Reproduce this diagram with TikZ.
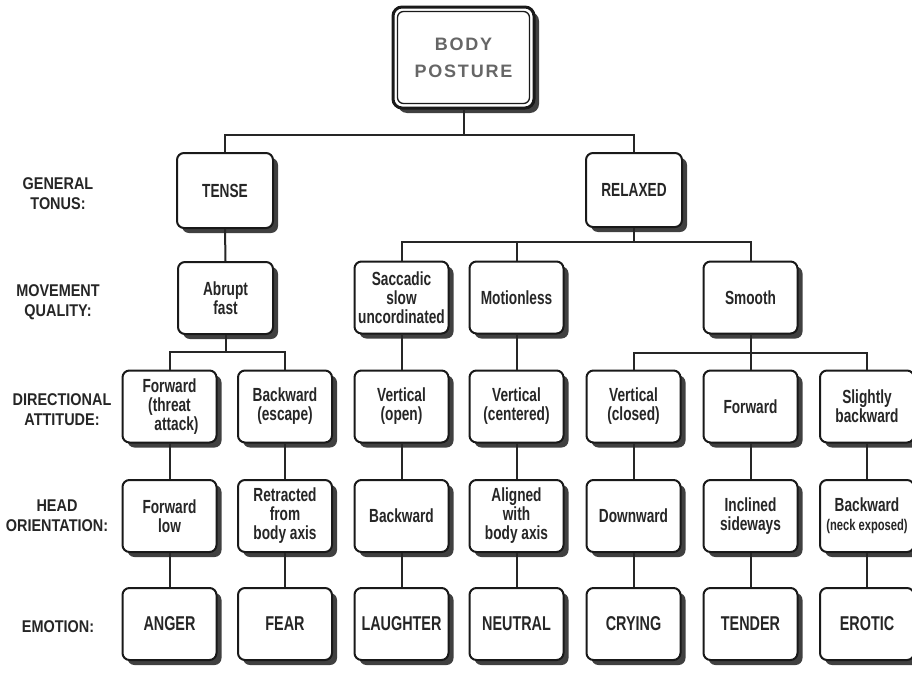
\documentclass[tikz,border=0pt]{standalone}
\usepackage{fontspec}
\setmainfont{Liberation Sans}[FakeStretch=0.72]
\newfontfamily\labfont{Liberation Sans}[FakeStretch=0.85]
\newfontfamily\titlefont{Liberation Sans}[LetterSpace=10]
\usetikzlibrary{shadows}
\begin{document}
\begin{tikzpicture}[x=1pt,y=-1pt,
  box/.style={draw=black!90, line width=2pt, rounded corners=7pt, fill=white,
    minimum width=94pt, minimum height=72pt, inner sep=1pt, align=center,
    font=\fontsize{19}{19}\selectfont\bfseries, text=black!85,
    drop shadow={shadow xshift=5pt, shadow yshift=-5pt, fill=black!75, opacity=1}},
  emo/.style={box, font=\fontsize{20}{20}\selectfont\bfseries},
  lab/.style={align=center, font=\labfont\fontsize{17}{20}\selectfont\bfseries, text=black!85},
  conn/.style={draw=black!85, line width=2pt}]
\useasboundingbox (0,0) rectangle (912,680);
\fill[white] (0,0) rectangle (912,680);

% title
\node[box, minimum width=141pt, minimum height=101pt, line width=3pt, rounded corners=9pt,
  font=\titlefont\fontsize{18}{27}\selectfont\bfseries, text=black!60,
  drop shadow={shadow xshift=3pt, shadow yshift=-3pt, fill=black!75, opacity=1}]
  (bp) at (463.5,57.5) {BODY\\POSTURE};
\draw[line width=1.3pt, rounded corners=6pt, black!90]
  ([shift={(6,6)}]bp.north west) rectangle ([shift={(-6,-6)}]bp.south east);

% row labels
\node[lab] (l1) at (58,194) {GENERAL\\TONUS:};
\node[lab] (l2) at (58,302) {MOVEMENT\\QUALITY:};
\node[lab] (l3) at (62,410) {DIRECTIONAL\\ATTITUDE:};
\node[lab] (l4) at (57,516) {HEAD\\ORIENTATION:};
\node[lab] (l5) at (58,627) {EMOTION:};

% level 1
\node[box, minimum width=96pt, minimum height=75pt] (tense) at (225,190.5) {TENSE};
\node[box, minimum width=96pt, minimum height=74pt] (relaxed) at (634,190) {RELAXED};

% level 2
\node[box, minimum width=95pt] (abrupt) at (225.5,298) {Abrupt\\fast};
\node[box] (sacc) at (401.5,297.5) {Saccadic\\slow\\uncordinated};
\node[box] (motion) at (516.5,297.5) {Motionless};
\node[box] (smooth) at (750.5,297.5) {Smooth};

% level 3
\node[box] (d1) at (169.5,406.5) {Forward\\(threat\hspace{10pt}\\\hspace{14pt}attack)};
\node[box] (d2) at (285,406.5) {Backward\\(escape)};
\node[box] (d3) at (401.5,406.5) {Vertical\\(open)};
\node[box] (d4) at (516.5,406.5) {Vertical\\(centered)};
\node[box] (d5) at (633.5,406.5) {Vertical\\(closed)};
\node[box] (d6) at (750.5,406.5) {Forward};
\node[box] (d7) at (867,406.5) {Slightly\\backward};

% level 4
\node[box] (h1) at (169.5,516) {Forward\\low};
\node[box] (h2) at (285,516) {Retracted\\from\\body axis};
\node[box] (h3) at (401.5,516) {Backward};
\node[box] (h4) at (516.5,516) {Aligned\\with\\body axis};
\node[box] (h5) at (633.5,516) {Downward};
\node[box] (h6) at (750.5,516) {Inclined\\sideways};
\node[box] (h7) at (867,516) {Backward\\{\fontsize{15.5}{16}\selectfont(neck exposed)}};

% level 5
\node[emo] (e1) at (169.5,624) {ANGER};
\node[emo] (e2) at (285,624) {FEAR};
\node[emo] (e3) at (401.5,624) {LAUGHTER};
\node[emo] (e4) at (516.5,624) {NEUTRAL};
\node[emo] (e5) at (633.5,624) {CRYING};
\node[emo] (e6) at (750.5,624) {TENDER};
\node[emo] (e7) at (867,624) {EROTIC};

% junctions
\coordinate (j0) at (463.5,135);
\coordinate (j1) at (634,242);
\coordinate (j2) at (225.5,352);
\coordinate (j3) at (750.5,353);

% connectors
\draw[conn] (bp.south) -- (j0);
\draw[conn] (j0) -| (tense.north);
\draw[conn] (j0) -| (relaxed.north);
\draw[conn] (tense.south) -- (abrupt.north);
\draw[conn] (relaxed.south) -- (j1);
\draw[conn] (j1) -| (sacc.north);
\draw[conn] (j1) -| (motion.north);
\draw[conn] (j1) -| (smooth.north);
\draw[conn] (abrupt.south) -- (j2);
\draw[conn] (j2) -| (d1.north);
\draw[conn] (j2) -| (d2.north);
\draw[conn] (sacc.south) -- (d3.north);
\draw[conn] (motion.south) -- (d4.north);
\draw[conn] (smooth.south) -- (j3);
\draw[conn] (j3) -| (d5.north);
\draw[conn] (j3) -| (d6.north);
\draw[conn] (j3) -| (d7.north);
\foreach \i in {1,...,7}{
  \draw[conn] (d\i.south) -- (h\i.north);
  \draw[conn] (h\i.south) -- (e\i.north);
}
\end{tikzpicture}
\end{document}
